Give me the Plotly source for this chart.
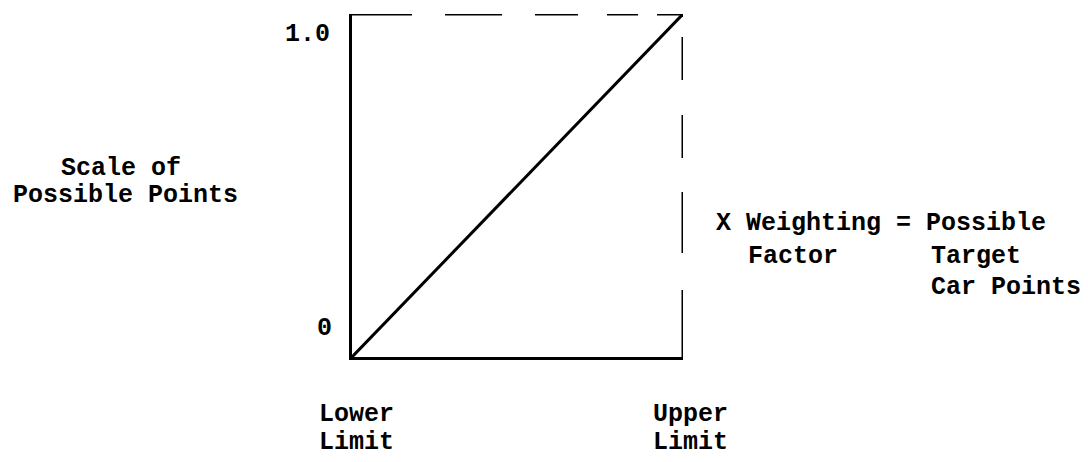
import plotly.graph_objects as go

# ---- data ----
line_x = [0, 1]
line_y = [0, 1]
y_tick_labels = ["0", "1.0"]
x_tick_labels_line1 = ["Lower", "Upper"]
x_tick_labels_line2 = ["Limit", "Limit"]
y_title_lines = ["Scale of", "Possible Points"]
eq_line1 = ["X Weighting = Possible"]
eq_line2 = ["Factor", "Target"]
eq_line3 = ["Car Points"]

OFF = 8  # default page body margin
W, H = 1088 - OFF, 462 - OFF
L, R, T, B = 352, 683, 14, 357  # page pixel positions of the box
FONT = dict(family="Liberation Mono, Courier New, monospace", size=25, color="black",
            weight="bold")


def px(xp):
    return (xp - L) / (R - L)


def py(yp):
    return (B - yp) / (B - T)


fig = go.Figure()
fig.add_trace(go.Scatter(x=line_x, y=line_y, mode="lines",
                         line=dict(color="black", width=3),
                         hoverinfo="skip", showlegend=False))

# dashed top and right edges
fig.add_shape(type="line", xref="x", yref="y", x0=0, x1=1, y0=1, y1=1,
              line=dict(color="black", width=3,
                        dash="60px,33px,57px,33px,43px,29px,31px,19px,40px"))
fig.add_shape(type="line", xref="x", yref="y", x0=1, x1=1, y0=0, y1=1,
              line=dict(color="black", width=3,
                        dash="67px,37px,61px,34px,43px,35px,43px,40px"))

ann = []


def add(text, xp, yp, xanchor="left"):
    ann.append(dict(text=text, x=px(xp), y=py(yp + 2), xref="paper", yref="paper",
                    xanchor=xanchor, yanchor="middle", showarrow=False, font=FONT,
                    borderpad=0))


# y tick labels
add(y_tick_labels[0], 333, 326, "right")
add(y_tick_labels[1], 331, 33, "right")
# x tick labels
add(x_tick_labels_line1[0], 318, 412)
add(x_tick_labels_line2[0], 318, 440)
add(x_tick_labels_line1[1], 652, 412)
add(x_tick_labels_line2[1], 652, 440)
# y title
add(y_title_lines[0], 121, 166, "center")
add(y_title_lines[1], 125, 193, "center")
# equation block
add(eq_line1[0], 715, 221)
add(eq_line2[0], 747, 255)
add(eq_line2[1], 930, 255)
add(eq_line3[0], 930, 285)

fig.update_layout(
    width=W, height=H,
    margin=dict(l=L - OFF, r=W - (R - OFF), t=T - OFF, b=H - (B - OFF)),
    paper_bgcolor="white", plot_bgcolor="white",
    showlegend=False,
    annotations=ann,
    xaxis=dict(range=[0, 1], showgrid=False, zeroline=False, showticklabels=False,
               ticks="", showline=True, linecolor="black", linewidth=3),
    yaxis=dict(range=[0, 1], showgrid=False, zeroline=False, showticklabels=False,
               ticks="", showline=True, linecolor="black", linewidth=3),
)

fig.write_html("out.html", config={"displayModeBar": False})
